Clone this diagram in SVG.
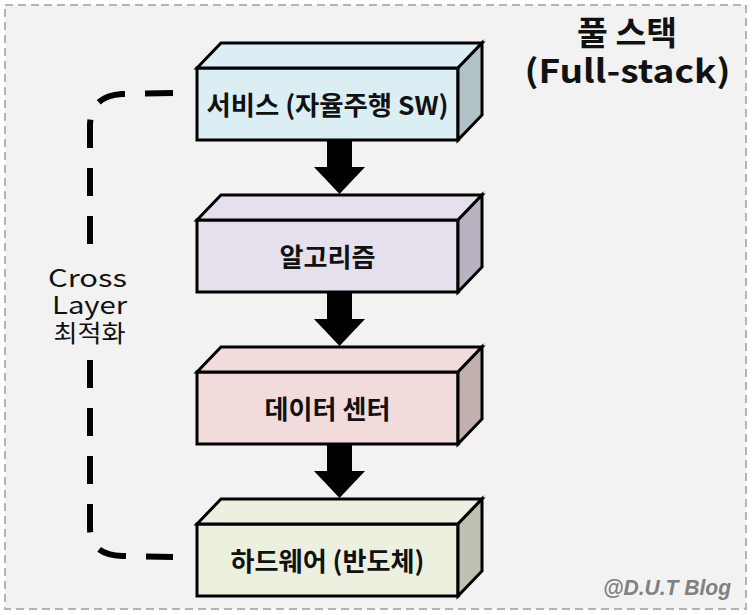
<svg xmlns="http://www.w3.org/2000/svg" width="752" height="615" viewBox="0 0 752 615">
<style>
.edge{stroke:#000;stroke-width:3;stroke-linejoin:miter}
.lbl{font-family:"Noto Sans CJK KR","Liberation Sans",sans-serif;font-weight:700;font-size:26px;fill:#111;text-anchor:middle;dominant-baseline:central}
.side{font-family:"Noto Sans CJK KR","Liberation Sans",sans-serif;font-weight:400;font-size:24px;fill:#111;text-anchor:middle}
.title{font-family:"Noto Sans CJK KR","Liberation Sans",sans-serif;font-weight:700;fill:#111;text-anchor:middle}
.arrow{fill:#000}
</style>
<rect x="0" y="0" width="752" height="615" fill="#ffffff"/>
<rect x="5" y="5" width="741" height="604" fill="#f2f2f2" stroke="#b4b4b4" stroke-width="2" stroke-dasharray="8 5"/>

<g id="connectors">
<path id="cross-layer-bracket" d="M173 93 L122 94 Q90 96 90 126 L90 528 Q90 555 122 556 L173 557" fill="none" stroke="#000" stroke-width="6" stroke-dasharray="28 20"/>
<polygon class="arrow" points="327,140 352,140 352,167 365,167 339.5,194 314,167 327,167"/>
<polygon class="arrow" points="327,292 352,292 352,319 365,319 339.5,346 314,319 327,319"/>
<polygon class="arrow" points="327,444 352,444 352,471 365,471 339.5,498 314,471 327,471"/>
</g>

<g id="node-service" transform="translate(0,68)">
<g fill="#daeef3"><rect x="197" y="0" width="261" height="72" class="edge"/><polygon points="197,0 221,-25 482,-25 458,0" class="edge"/></g>
<polygon points="458,0 482,-25 482,47 458,72" class="edge" fill="#b0c2c6"/>
<text class="lbl" x="327.5" y="35" textLength="242" lengthAdjust="spacingAndGlyphs">서비스 (자율주행 SW)</text>
</g>

<g id="node-algorithm" transform="translate(0,220)">
<g fill="#e6e0ec"><rect x="197" y="0" width="261" height="72" class="edge"/><polygon points="197,0 221,-25 482,-25 458,0" class="edge"/></g>
<polygon points="458,0 482,-25 482,47 458,72" class="edge" fill="#b9b3c1"/>
<text class="lbl" x="327.5" y="35" textLength="96" lengthAdjust="spacingAndGlyphs">알고리즘</text>
</g>

<g id="node-datacenter" transform="translate(0,372)">
<g fill="#f2dcdb"><rect x="197" y="0" width="261" height="72" class="edge"/><polygon points="197,0 221,-25 482,-25 458,0" class="edge"/></g>
<polygon points="458,0 482,-25 482,47 458,72" class="edge" fill="#c2b0af"/>
<text class="lbl" x="327.5" y="35" textLength="126" lengthAdjust="spacingAndGlyphs">데이터 센터</text>
</g>

<g id="node-hardware" transform="translate(0,524)">
<g fill="#ebf1de"><rect x="197" y="0" width="261" height="72" class="edge"/><polygon points="197,0 221,-25 482,-25 458,0" class="edge"/></g>
<polygon points="458,0 482,-25 482,47 458,72" class="edge" fill="#bcc1b1"/>
<text class="lbl" x="327.5" y="35" textLength="194" lengthAdjust="spacingAndGlyphs">하드웨어 (반도체)</text>
</g>

<g id="label-cross-layer">
<rect x="78" y="247" width="24" height="108" fill="#f2f2f2"/>
<text class="side" x="87.5" y="287" textLength="79" lengthAdjust="spacingAndGlyphs">Cross</text>
<text class="side" x="89.5" y="314" textLength="75" lengthAdjust="spacingAndGlyphs">Layer</text>
<text class="side" x="89.5" y="342" textLength="72" lengthAdjust="spacingAndGlyphs">최적화</text>
</g>

<g id="title">
<text class="title" x="627" y="45" font-size="33" textLength="100" lengthAdjust="spacingAndGlyphs">풀 스택</text>
<text class="title" x="627.5" y="83" font-size="32" textLength="206" lengthAdjust="spacingAndGlyphs">(Full-stack)</text>
</g>

<text x="667" y="595" font-family="Liberation Sans, sans-serif" font-weight="700" font-style="italic" font-size="22" fill="#808080" text-anchor="middle" textLength="128" lengthAdjust="spacingAndGlyphs">@D.U.T Blog</text>
</svg>
